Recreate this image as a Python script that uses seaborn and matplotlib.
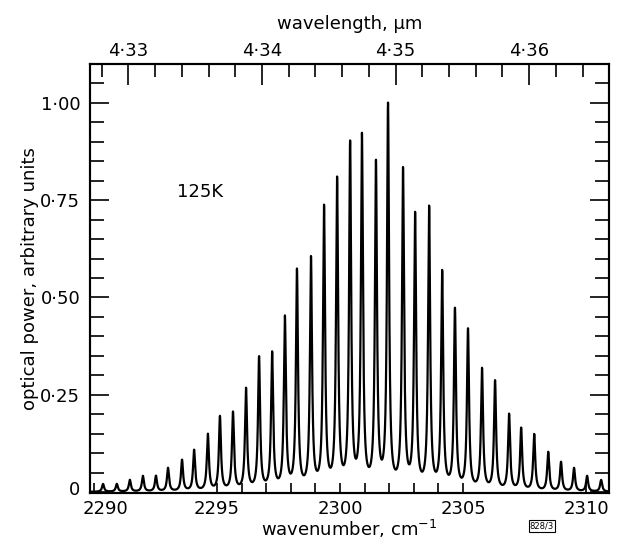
import numpy as np
import pandas as pd
import matplotlib
matplotlib.use('Agg')
import matplotlib.pyplot as plt
import matplotlib.transforms as mtransforms
import seaborn as sns
from matplotlib.ticker import FixedLocator, FuncFormatter

# Positions des pics (cm-1) et hauteurs
peak_wn = [2290.37, 2290.93, 2291.46, 2291.99, 2292.52, 2293.01, 2293.58, 2294.07,
           2294.63, 2295.12, 2295.65, 2296.18, 2296.71, 2297.24, 2297.76, 2298.25,
           2298.82, 2299.35, 2299.88, 2300.41, 2300.89, 2301.46, 2301.95, 2302.56,
           2303.05, 2303.62, 2304.15, 2304.67, 2305.20, 2305.77, 2306.30, 2306.87,
           2307.36, 2307.89, 2308.46, 2308.98, 2309.51, 2310.04, 2310.61]
peak_height = [0.02, 0.02, 0.03, 0.04, 0.04, 0.06, 0.08, 0.105,
               0.145, 0.19, 0.20, 0.26, 0.34, 0.35, 0.44, 0.56,
               0.59, 0.72, 0.79, 0.88, 0.90, 0.83, 0.98, 0.815,
               0.70, 0.72, 0.555, 0.46, 0.41, 0.31, 0.28, 0.195,
               0.16, 0.145, 0.10, 0.075, 0.06, 0.04, 0.03]
line_hwhm = 0.05  # demi-largeur des raies, cm-1

y_ticks = [0, 0.25, 0.50, 0.75, 1.00]
x_ticks = [2290, 2295, 2300, 2305, 2310]
wl_ticks = [4.33, 4.34, 4.35, 4.36]

# Spectre : somme de raies lorentziennes
wn = np.linspace(2289.84, 2310.93, 30000)
power = np.zeros_like(wn)
for c, h in zip(peak_wn, peak_height):
    power += h * line_hwhm**2 / ((wn - c)**2 + line_hwhm**2)
df = pd.DataFrame({'wavenumber': wn, 'power': power})

sns.set_theme(style='ticks')
plt.rcParams['font.family'] = ['DejaVu Sans']
plt.rcParams['text.color'] = 'black'

fig = plt.figure(figsize=(6.18, 5.42), dpi=100)
ax = fig.add_axes([90/618, 49/542, 519/618, 429/542])

sns.lineplot(data=df, x='wavenumber', y='power', color='black', lw=1.6,
             estimator=None, sort=False, ax=ax)

ax.set_xlim(2289.84, 2310.93)
ax.set_ylim(-0.0026, 1.10)

dot = lambda v, p: '0' if abs(v) < 1e-9 else f'{v:.2f}'.replace('.', '\u00b7')
ax.yaxis.set_major_locator(FixedLocator(y_ticks))
ax.yaxis.set_minor_locator(FixedLocator(np.arange(0.05, 1.10, 0.05)))
ax.yaxis.set_major_formatter(FuncFormatter(dot))
ax.xaxis.set_major_locator(FixedLocator(x_ticks))
ax.xaxis.set_minor_locator(FixedLocator(range(2296, 2305)))

ax.tick_params(axis='y', which='both', direction='in', left=True, right=True,
               labelsize=13, pad=7, width=1.2, color='black', labelcolor='black')
ax.tick_params(axis='y', which='major', length=14)
ax.tick_params(axis='y', which='minor', length=10)
ax.tick_params(axis='x', which='both', direction='in', top=False, bottom=True,
               length=7, width=1.2, labelsize=13, pad=5, color='black', labelcolor='black')

# décaler "2290" vers la droite et "0" vers le haut, comme sur l'original
first_x = ax.xaxis.get_major_ticks()[0].label1
first_x.set_transform(first_x.get_transform() +
                      mtransforms.ScaledTranslation(12/100, 0, fig.dpi_scale_trans))
first_y = ax.yaxis.get_major_ticks()[0].label1
first_y.set_transform(first_y.get_transform() +
                      mtransforms.ScaledTranslation(0, 4/100, fig.dpi_scale_trans))

ax.set_xlabel('wavenumber, cm$^{-1}$', fontsize=13, labelpad=0, color='black')
ax.set_ylabel('optical power, arbitrary units', fontsize=13, labelpad=1, color='black')

# Axe supérieur : longueur d'onde
ax2 = ax.twiny()
ax2.set_xlim(4.32712, 4.36598)
ax2.xaxis.set_major_locator(FixedLocator(wl_ticks))
ax2.xaxis.set_minor_locator(FixedLocator(np.arange(4.328, 4.366, 0.002)))
ax2.xaxis.set_major_formatter(FuncFormatter(lambda v, p: f'{v:.2f}'.replace('.', '\u00b7')))
ax2.tick_params(axis='x', which='both', direction='in', width=1.2, labelsize=13, pad=3,
                color='black', labelcolor='black')
ax2.tick_params(axis='x', which='major', length=15)
ax2.tick_params(axis='x', which='minor', length=9)
ax2.set_xlabel('wavelength, \u00b5m', fontsize=13, labelpad=9, color='black')

for a in (ax, ax2):
    for s in a.spines.values():
        s.set_linewidth(1.5)
        s.set_color('black')

ax.text(2294.31, 0.77, '125K', fontsize=13, ha='center', va='center', color='black')
fig.text(542/618, 1 - 526/542, '828/3', fontsize=6, ha='center', va='center', color='black',
         bbox=dict(boxstyle='square,pad=0.15', fc='white', ec='black', lw=0.8))

fig.savefig('out.png', dpi=100)
